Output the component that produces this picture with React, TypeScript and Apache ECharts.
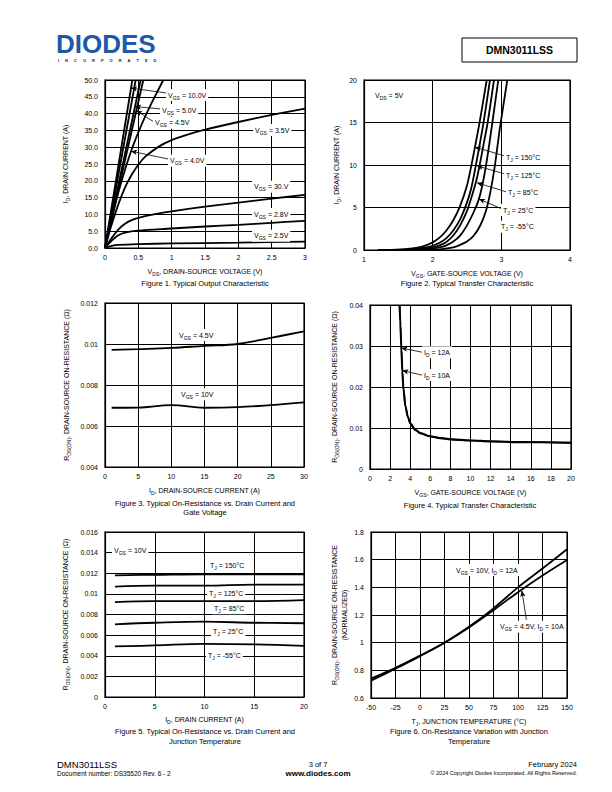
import React, { useEffect, useRef } from "react";
import * as echarts from "echarts";

// ---------- DATA ----------
// Figure 1: ID vs VDS for several VGS
const f1_vgs10 = [[0, 0], [0.41, 50]];
const f1_vgsUnlabeled = [[0, 0], [0.46, 50]];
const f1_vgs5 = [[0, 0], [0.535, 50]];
const f1_vgs45 = [[0, 0], [0.575, 50]];
const f1_vgs4 = [[0, 0], [0.1, 8.5], [0.2, 16.5], [0.3, 23.3], [0.4, 29.3], [0.5, 34.4], [0.6, 39], [0.7, 43.2], [0.8, 47.1], [0.875, 50]];
const f1_vgs35 = [[0, 0], [0.1, 7], [0.2, 13], [0.3, 18], [0.4, 21.8], [0.5, 24.8], [0.6, 27.1], [0.8, 30.1], [1, 32.1], [1.25, 33.8], [1.5, 35.2], [2, 37.5], [2.5, 39.6], [3, 41.5]];
const f1_vgs3 = [[0, 0], [0.1, 3], [0.2, 5.5], [0.3, 7.2], [0.4, 8.3], [0.5, 9], [0.75, 10.1], [1, 10.9], [1.5, 12.3], [2, 13.5], [2.5, 14.7], [3, 15.8]];
const f1_vgs28 = [[0, 0], [0.1, 2.2], [0.2, 3.8], [0.3, 4.6], [0.5, 5.2], [1, 5.8], [1.5, 6.4], [2, 6.9], [2.5, 7.5], [3, 8.1]];
const f1_vgs25 = [[0, 0], [0.1, 0.6], [0.2, 0.9], [0.5, 1.15], [1, 1.35], [2, 1.6], [3, 1.9]];

// Figure 2: ID vs VGS for several TJ
const f2_t150 = [[1.2, 0], [1.4, 0.02], [1.6, 0.1], [1.8, 0.32], [1.9, 0.55], [2.0, 0.9], [2.1, 1.45], [2.2, 2.3], [2.3, 3.5], [2.4, 5.2], [2.5, 7.6], [2.565, 10], [2.618, 12.2], [2.679, 14.8], [2.787, 20]];
const f2_t125 = [[1.3, 0], [1.5, 0.02], [1.7, 0.08], [1.9, 0.3], [2.0, 0.5], [2.1, 0.85], [2.2, 1.4], [2.3, 2.3], [2.4, 3.6], [2.5, 5.6], [2.56, 7.2], [2.625, 9.8], [2.68, 12.2], [2.737, 14.8], [2.835, 20]];
const f2_t85 = [[1.4, 0], [1.6, 0.02], [1.8, 0.08], [2.0, 0.3], [2.1, 0.55], [2.2, 0.95], [2.3, 1.7], [2.4, 2.9], [2.5, 4.6], [2.58, 6.6], [2.637, 8.2], [2.69, 10.2], [2.75, 12.8], [2.801, 15], [2.893, 20]];
const f2_t25 = [[1.5, 0], [1.7, 0.02], [1.9, 0.07], [2.1, 0.3], [2.2, 0.55], [2.3, 1.0], [2.4, 1.7], [2.5, 2.9], [2.6, 4.5], [2.67, 5.9], [2.72, 7.5], [2.77, 9.6], [2.82, 12.2], [2.859, 14.4], [2.956, 20]];
const f2_tm55 = [[1.7, 0], [1.9, 0.02], [2.1, 0.08], [2.3, 0.3], [2.4, 0.6], [2.5, 1.0], [2.6, 1.7], [2.7, 3.0], [2.78, 4.7], [2.84, 6.8], [2.9, 9.6], [2.95, 12.6], [2.98, 14.4], [3.087, 20]];

// Figure 3: RDS(ON) vs ID
const f3_vgs45 = [[1, 0.00971], [5, 0.00975], [10, 0.00981], [15, 0.00991], [20, 0.01], [25, 0.0103], [30, 0.01062]];
const f3_vgs10 = [[1, 0.00689], [5, 0.0069], [10, 0.00702], [15, 0.00689], [20, 0.00692], [25, 0.00702], [30, 0.00715]];

// Figure 4: RDS(ON) vs VGS
const f4_id12 = [[2.93, 0.04], [3.0, 0.036], [3.1, 0.03], [3.2, 0.024], [3.3, 0.02], [3.5, 0.0155], [3.75, 0.0128], [4, 0.0112], [4.5, 0.0096], [5, 0.0088], [6, 0.008], [7, 0.0076], [8, 0.0073], [10, 0.007], [12, 0.0068], [15, 0.0066], [20, 0.0064]];
const f4_id10 = [[2.96, 0.04], [3.04, 0.035], [3.14, 0.029], [3.24, 0.0235], [3.34, 0.0195], [3.55, 0.0151], [3.8, 0.0125], [4, 0.0111], [4.5, 0.0095], [5, 0.0087], [6, 0.0079], [7, 0.0075], [8, 0.0072], [10, 0.0069], [12, 0.0067], [15, 0.0065], [20, 0.0064]];

// Figure 5: RDS(ON) vs ID for several TJ
const f5_t150 = [[1, 0.0118], [5, 0.01185], [10, 0.0119], [15, 0.0119], [20, 0.0119]];
const f5_t125 = [[1, 0.0107], [5, 0.0108], [10, 0.0108], [15, 0.0109], [20, 0.0109]];
const f5_t85 = [[1, 0.0092], [5, 0.0093], [10, 0.0093], [15, 0.0093], [20, 0.0094]];
const f5_t25 = [[1, 0.00705], [5, 0.0072], [10, 0.0073], [15, 0.0072], [20, 0.00715]];
const f5_tm55 = [[1, 0.0049], [5, 0.005], [10, 0.00515], [15, 0.0051], [20, 0.00495]];

// Figure 6: normalized RDS(ON) vs TJ
const f6_vgs10 = [[-50, 0.725], [-25, 0.812], [0, 0.903], [25, 1.0], [50, 1.115], [75, 1.248], [100, 1.4], [125, 1.536], [150, 1.675]];
const f6_vgs45 = [[-50, 0.74], [-25, 0.818], [0, 0.906], [25, 1.0], [50, 1.11], [75, 1.235], [100, 1.365], [125, 1.486], [150, 1.598]];

// Annotation arrows (data coordinates: [from, to])
const f1_arrows = [
  [[0.93, 46.1], [0.39, 47.6]],
  [[0.825, 41.4], [0.45, 42.1]],
  [[0.735, 37.5], [0.47, 40.9]],
  [[0.945, 26.5], [0.39, 28.8]],
];
const f2_arrows = [
  [[3.053, 11.06], [2.616, 12.1]],
  [[3.053, 8.94], [2.646, 9.9]],
  [[3.082, 6.82], [2.646, 7.9]],
  [[3.01, 4.82], [2.675, 6.0]],
];
const f4_arrows = [
  [[5.17, 0.0285], [3.12, 0.0295]],
  [[5.17, 0.0229], [3.22, 0.0240]],
];
const f6_arrows = [[[108.5, 1.165], [104, 1.375]]];

// ---------- HELPERS ----------
const FONT = '"Liberation Sans", Arial, Helvetica, sans-serif';

function rich(s: string): string {
  return s
    .split("\n")
    .map((line) => "{a|" + line.replace(/_\{([^}]*)\}/g, "}{s|$1}{a|") + "}")
    .join("\n");
}
function R(size: number) {
  return {
    a: { fontSize: size, fontFamily: FONT, color: "#000", fill: "#000", lineHeight: size + 3 },
    s: { fontSize: size * 0.72, fontFamily: FONT, color: "#000", fill: "#000", verticalAlign: "bottom", lineHeight: size * 0.45 },
  };
}

function xAx(gi: number, min: number, max: number, interval: number, name: string, gap: number, fmt?: any) {
  return {
    type: "value", gridIndex: gi, min, max, interval,
    name: rich(name), nameLocation: "middle", nameGap: gap,
    nameTextStyle: { rich: R(7) },
    axisLine: { show: true, onZero: false, lineStyle: { color: "#000", width: 1.2 } },
    axisTick: { show: false },
    axisLabel: { color: "#000", fontSize: 7, fontFamily: FONT, margin: 6, ...(fmt ? { formatter: fmt } : {}) },
    splitLine: { show: true, lineStyle: { color: "#000", width: 1 } },
  };
}
function yAx(gi: number, min: number, max: number, interval: number, name: string, gap: number, fmt?: any) {
  return {
    type: "value", gridIndex: gi, min, max, interval,
    name: rich(name), nameLocation: "middle", nameGap: gap, nameRotate: 90,
    nameTextStyle: { rich: R(7) },
    axisLine: { show: true, onZero: false, lineStyle: { color: "#000", width: 1.2 } },
    axisTick: { show: false },
    axisLabel: { color: "#000", fontSize: 7, fontFamily: FONT, margin: 7, ...(fmt ? { formatter: fmt } : {}) },
    splitLine: { show: true, lineStyle: { color: "#000", width: 1 } },
  };
}
function line(gi: number, name: string, data: number[][], smooth: any, arrows?: number[][][], mono = false) {
  const s: any = {
    type: "line", name, xAxisIndex: gi, yAxisIndex: gi, data,
    symbol: "none", showSymbol: false, smooth,
    lineStyle: { color: "#000", width: 1.8 }, itemStyle: { color: "#000" },
    silent: true, z: 3,
  };
  if (mono) s.smoothMonotone = "x";
  if (arrows) {
    s.markLine = {
      silent: true, symbol: ["none", "arrow"], symbolSize: [4, 6], precision: 5,
      label: { show: false },
      lineStyle: { color: "#000", width: 0.8, type: "solid" },
      data: arrows.map((a) => [{ coord: a[0] }, { coord: a[1] }]),
    };
  }
  return s;
}
function lbl(x: number, y: number, text: string, bg = true) {
  return {
    type: "text", x, y, z: 100,
    style: {
      text: rich(text), rich: R(7), fill: "#000",
      backgroundColor: bg ? "#fff" : undefined, padding: bg ? [1, 2, 1, 2] : 0,
      align: "left", verticalAlign: "middle",
    },
  };
}
function txt(x: number, y: number, text: string, size: number, align = "left", weight = "normal", color = "#000") {
  return {
    type: "text", x, y, z: 100,
    style: { text, fill: color, font: `${weight} ${size}px ${FONT}`, align, verticalAlign: "middle" },
  };
}

const GRIDS = [
  { left: 105, top: 80, width: 200, height: 168 },
  { left: 364, top: 80, width: 206, height: 170 },
  { left: 105, top: 303, width: 199, height: 164 },
  { left: 370, top: 305, width: 201, height: 164 },
  { left: 105, top: 532, width: 199, height: 165 },
  { left: 371, top: 532, width: 196, height: 166 },
];

export default function App() {
  const ref = useRef<HTMLDivElement>(null);
  useEffect(() => {
    if (!ref.current) return;
    const chart = echarts.init(ref.current, undefined, { renderer: "svg" });
    const RDS = "R_{DS(ON)}, DRAIN-SOURCE ON-RESISTANCE (Ω)";
    const incorporated = "INCORPORATED".split("").join("\u2003\u2002");
    const option: any = {
      animation: false,
      grid: GRIDS.map((g) => ({ ...g, show: true, borderColor: "#000", borderWidth: 1.2, containLabel: false, outerBoundsMode: "none" })),
      xAxis: [
        xAx(0, 0, 3, 0.5, "V_{DS}, DRAIN-SOURCE VOLTAGE (V)", 18),
        xAx(1, 1, 4, 1, "V_{GS}, GATE-SOURCE VOLTAGE (V)", 18),
        xAx(2, 0, 30, 5, "I_{D}, DRAIN-SOURCE CURRENT (A)", 18),
        xAx(3, 0, 20, 2, "V_{GS}, GATE-SOURCE VOLTAGE (V)", 18),
        xAx(4, 0, 20, 5, "I_{D}, DRAIN CURRENT (A)", 17),
        xAx(5, -50, 150, 25, "T_{J}, JUNCTION TEMPERATURE (°C)", 18),
      ],
      yAxis: [
        yAx(0, 0, 50, 5, "I_{D}, DRAIN CURRENT (A)", 35, (v: number) => v.toFixed(1)),
        yAx(1, 0, 20, 5, "I_{D}, DRAIN CURRENT (A)", 23),
        yAx(2, 0.004, 0.012, 0.002, RDS, 34),
        yAx(3, 0, 0.04, 0.01, RDS, 31),
        yAx(4, 0, 0.016, 0.002, RDS, 35),
        yAx(5, 0.6, 1.8, 0.2, "R_{DS(ON)}, DRAIN-SOURCE ON-RESISTANCE\n(NORMALIZED)", 22),
      ],
      series: [
        line(0, "VGS = 10.0V", f1_vgs10, false, f1_arrows),
        line(0, "VGS (unlabeled)", f1_vgsUnlabeled, false),
        line(0, "VGS = 5.0V", f1_vgs5, false),
        line(0, "VGS = 4.5V", f1_vgs45, false),
        line(0, "VGS = 4.0V", f1_vgs4, 0.3),
        line(0, "VGS = 3.5V", f1_vgs35, 0.3),
        line(0, "VGS = 3.0V", f1_vgs3, 0.3),
        line(0, "VGS = 2.8V", f1_vgs28, 0.3),
        line(0, "VGS = 2.5V", f1_vgs25, 0.3),
        line(1, "TJ = 150°C", f2_t150, 0.3, f2_arrows),
        line(1, "TJ = 125°C", f2_t125, 0.3),
        line(1, "TJ = 85°C", f2_t85, 0.3),
        line(1, "TJ = 25°C", f2_t25, 0.3),
        line(1, "TJ = -55°C", f2_tm55, 0.3),
        line(2, "VGS = 4.5V", f3_vgs45, 0.4),
        line(2, "VGS = 10V", f3_vgs10, 0.4),
        line(3, "ID = 12A", f4_id12, 0.3, f4_arrows, true),
        line(3, "ID = 10A", f4_id10, 0.3, undefined, true),
        line(4, "TJ = 150°C", f5_t150, 0.4),
        line(4, "TJ = 125°C", f5_t125, 0.4),
        line(4, "TJ = 85°C", f5_t85, 0.4),
        line(4, "TJ = 25°C", f5_t25, 0.4),
        line(4, "TJ = -55°C", f5_tm55, 0.4),
        line(5, "VGS = 10V, ID = 12A", f6_vgs10, 0.3, f6_arrows),
        line(5, "VGS = 4.5V, ID = 10A", f6_vgs45, 0.3),
      ],
      graphic: [
        // header
        { type: "text", x: 56, y: 43.5, z: 100, style: { text: "DIODES", fill: "#1c59a6", font: `bold 26px ${FONT}`, align: "left", verticalAlign: "middle" } },
        txt(58, 60.5, incorporated, 4, "left", "bold", "#222"),
        { type: "rect", shape: { x: 462, y: 38, width: 115, height: 24 }, style: { fill: "none", stroke: "#000", lineWidth: 1 }, z: 100 },
        txt(519.5, 50, "DMN3011LSS", 10.5, "center", "bold"),
        // figure 1 labels
        lbl(166, 95, "V_{GS} = 10.0V"),
        lbl(160, 110, "V_{GS} = 5.0V"),
        lbl(153, 122.7, "V_{GS} = 4.5V"),
        lbl(168, 160.7, "V_{GS} = 4.0V"),
        lbl(253, 130, "V_{GS} = 3.5V"),
        lbl(252, 186.7, "V_{GS} = 30.V"),
        lbl(252, 214, "V_{GS} = 2.8V"),
        lbl(252, 235.7, "V_{GS} = 2.5V"),
        txt(205, 283, "Figure 1. Typical Output Characteristic", 7.5, "center"),
        // figure 2 labels
        lbl(373, 95, "V_{DS} = 5V"),
        lbl(504, 157.7, "T_{J} = 150°C"),
        lbl(504, 175, "T_{J} = 125°C"),
        lbl(506, 192.3, "T_{J} = 85°C"),
        lbl(501, 210, "T_{J} = 25°C"),
        lbl(499, 226.7, "T_{J} = -55°C"),
        txt(467, 283, "Figure 2. Typical Transfer Characteristic", 7.5, "center"),
        // figure 3 labels
        lbl(177, 335, "V_{GS} = 4.5V"),
        lbl(179, 394.3, "V_{GS} = 10V"),
        txt(205, 503, "Figure 3. Typical On-Resistance vs. Drain Current and", 7.5, "center"),
        txt(205, 512.5, "Gate Voltage", 7.5, "center"),
        // figure 4 labels
        lbl(422, 352.3, "I_{D} = 12A"),
        lbl(422, 375, "I_{D} = 10A"),
        txt(470, 505.5, "Figure 4. Typical Transfer Characteristic", 7.5, "center"),
        // figure 5 labels
        lbl(112, 550, "V_{GS} = 10V"),
        lbl(208, 565.7, "T_{J} = 150°C"),
        lbl(207, 593.3, "T_{J} = 125°C"),
        lbl(212, 608.3, "T_{J} = 85°C"),
        lbl(211, 631, "T_{J} = 25°C"),
        lbl(206, 655.7, "T_{J} = -55°C"),
        txt(205, 731.5, "Figure 5. Typical On-Resistance vs. Drain Current and", 7.5, "center"),
        txt(205, 741.5, "Junction Temperature", 7.5, "center"),
        // figure 6 labels
        lbl(454, 570, "V_{GS} = 10V, I_{D} = 12A"),
        lbl(498, 626.7, "V_{GS} = 4.5V, I_{D} = 10A"),
        txt(469, 731.5, "Figure 6. On-Resistance Variation with Junction", 7.5, "center"),
        txt(469, 741.5, "Temperature", 7.5, "center"),
        // footer
        txt(57, 764, "DMN3011LSS", 9.5),
        txt(57, 773, "Document number: DS35520 Rev. 6 - 2", 6.5),
        txt(318, 764, "3 of 7", 7.5, "center"),
        txt(318, 773, "www.diodes.com", 8, "center", "bold"),
        txt(577, 764, "February 2024", 7.5, "right"),
        txt(577, 773, "© 2024 Copyright Diodes Incorporated. All Rights Reserved.", 5.5, "right"),
      ],
    };
    chart.setOption(option);
    return () => chart.dispose();
  }, []);
  return <div ref={ref} style={{ position: "fixed", left: 0, top: 0, width: 612, height: 792, background: "#fff" }} />;
}
